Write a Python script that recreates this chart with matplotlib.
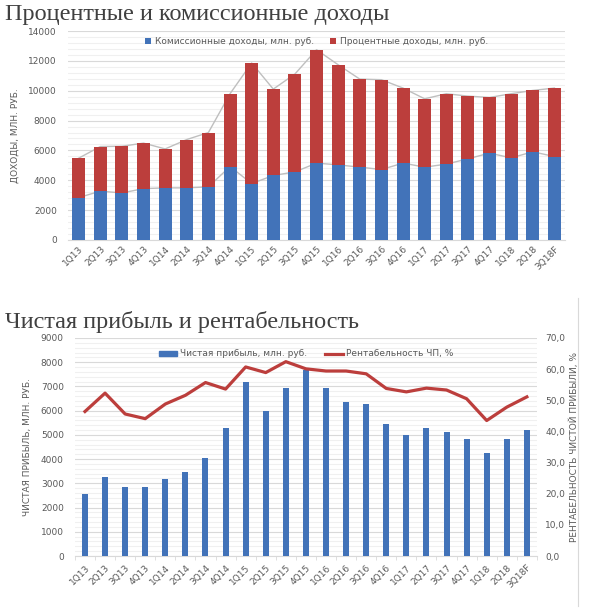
import matplotlib
matplotlib.use("Agg")
import matplotlib.pyplot as plt
import numpy as np
from matplotlib.ticker import MultipleLocator, FuncFormatter
from matplotlib.lines import Line2D
from matplotlib.patches import Patch

quarters = ["1Q13", "2Q13", "3Q13", "4Q13", "1Q14", "2Q14", "3Q14", "4Q14",
            "1Q15", "2Q15", "3Q15", "4Q15", "1Q16", "2Q16", "3Q16", "4Q16",
            "1Q17", "2Q17", "3Q17", "4Q17", "1Q18", "2Q18", "3Q18F"]

commission = [2840, 3270, 3150, 3440, 3490, 3490, 3560, 4920,
              3780, 4320, 4560, 5150, 5030, 4880, 4720, 5150,
              4880, 5080, 5440, 5820, 5500, 5910, 5590]
total_income = [5480, 6260, 6280, 6490, 6100, 6730, 7200, 9800,
                11860, 10110, 11120, 12750, 11740, 10780, 10740, 10180,
                9460, 9800, 9640, 9550, 9800, 10020, 10180]
interest = [t - c for t, c in zip(total_income, commission)]

net_profit = [2550, 3280, 2830, 2830, 3160, 3470, 4050, 5265,
              7180, 5990, 6940, 7670, 6940, 6360, 6270, 5470,
              4975, 5290, 5125, 4810, 4257, 4835, 5195]
margin = [46.4, 52.3, 45.6, 44.1, 48.8, 51.6, 55.7, 53.6,
          60.7, 58.9, 62.4, 60.1, 59.4, 59.4, 58.5, 53.8,
          52.7, 53.9, 53.3, 50.5, 43.5, 47.8, 51.1]

BLUE = "#4273B9"
RED = "#BC3E3C"
TXT = "#595959"
GRID = "#D9D9D9"
MINOR = "#F0F0F0"

plt.rcParams['font.family'] = ['DejaVu Sans']
fig = plt.figure(figsize=(5.9, 6.09), dpi=100)

x = np.arange(len(quarters))

# ---------- Top chart ----------
ax1 = fig.add_axes([0.115, 0.606, 0.843, 0.343])
ax1.bar(x, commission, width=0.6, color=BLUE, label="Комиссионные доходы, млн. руб.", zorder=3)
ax1.bar(x, interest, width=0.6, bottom=commission, color=RED, label="Процентные доходы, млн. руб.", zorder=3)
ax1.plot(x, commission, color="#BFBFBF", lw=1, zorder=2)
ax1.plot(x, total_income, color="#BFBFBF", lw=1, zorder=2)
ax1.set_xlim(-0.5, len(quarters) - 0.5)
ax1.set_ylim(0, 14000)
ax1.yaxis.set_major_locator(MultipleLocator(2000))
ax1.yaxis.set_minor_locator(MultipleLocator(400))
ax1.grid(axis='y', which='major', color=GRID, lw=0.8, zorder=0)
ax1.grid(axis='y', which='minor', color=MINOR, lw=0.8, zorder=0)
ax1.set_axisbelow(True)
for s in ['top', 'right', 'left']:
    ax1.spines[s].set_visible(False)
ax1.spines['bottom'].set_color(GRID)
ax1.set_xticks(x)
ax1.set_xticklabels(quarters, rotation=45, ha='right', rotation_mode='anchor')
ax1.tick_params(axis='both', which='both', length=0, labelsize=6.5, colors=TXT, pad=3)
ax1.tick_params(axis='y', pad=8)
ax1.set_ylabel("ДОХОДЫ, МЛН. РУБ.", fontsize=6.5, color=TXT, labelpad=6)
ax1.legend(loc='upper center', bbox_to_anchor=(0.5, 1.01), ncol=2, frameon=False,
           fontsize=6.5, labelcolor=TXT, handlelength=0.7, handleheight=0.7,
           handletextpad=0.4, columnspacing=1.8)
fig.text(0.008, 0.976, "Процентные и комиссионные доходы", fontsize=17.5,
         family="Liberation Serif", color="#404040", va='center', ha='left')

# ---------- Bottom chart ----------
ax2 = fig.add_axes([0.127, 0.087, 0.783, 0.358])
ax2.bar(x, net_profit, width=0.3, color=BLUE, zorder=3)
ax2.set_xlim(-0.5, len(quarters) - 0.5)
ax2.set_ylim(0, 9000)
ax2.yaxis.set_major_locator(MultipleLocator(1000))
ax2.yaxis.set_minor_locator(MultipleLocator(200))
ax2.grid(axis='y', which='major', color=GRID, lw=0.8, zorder=0)
ax2.grid(axis='y', which='minor', color=MINOR, lw=0.8, zorder=0)
ax2.set_axisbelow(True)
for s in ['top', 'right', 'left']:
    ax2.spines[s].set_visible(False)
ax2.spines['bottom'].set_color(GRID)
ax2.set_xticks(x)
ax2.set_xticklabels(quarters, rotation=45, ha='right', rotation_mode='anchor')
ax2.set_xticks(np.arange(-0.5, len(quarters), 1.0), minor=True)
ax2.tick_params(axis='x', which='major', length=0, labelsize=6.5, colors=TXT, pad=5)
ax2.tick_params(axis='x', which='minor', length=3, color=GRID)
ax2.tick_params(axis='y', which='both', length=0, labelsize=6.5, colors=TXT, pad=8)
ax2.set_ylabel("ЧИСТАЯ ПРИБЫЛЬ, МЛН. РУБ.", fontsize=6.5, color=TXT, labelpad=6)

ax3 = ax2.twinx()
ax3.plot(x, margin, color=RED, lw=2.3, zorder=4)
ax3.set_ylim(0, 70)
ax3.yaxis.set_major_locator(MultipleLocator(10))
ax3.yaxis.set_major_formatter(FuncFormatter(lambda v, p: f"{v:.1f}".replace('.', ',')))
for s in ['top', 'right', 'left', 'bottom']:
    ax3.spines[s].set_visible(False)
ax3.tick_params(axis='y', length=0, labelsize=6.5, colors=TXT, pad=6)
ax3.set_ylabel("РЕНТАБЕЛЬНОСТЬ ЧИСТОЙ ПРИБЫЛИ, %", fontsize=6.5, color=TXT, labelpad=3)

handles = [Patch(color=BLUE), Line2D([0], [0], color=RED, lw=2.3)]
ax2.legend(handles, ["Чистая прибыль, млн. руб.", "Рентабельность ЧП, %"],
           loc='upper center', bbox_to_anchor=(0.5, 0.985), ncol=2, frameon=False,
           fontsize=6.5, labelcolor=TXT, handlelength=2.0, handleheight=0.5,
           handletextpad=0.3, columnspacing=2.0)
fig.text(0.008, 0.472, "Чистая прибыль и рентабельность", fontsize=17.5,
         family="Liberation Serif", color="#404040", va='center', ha='left')

fig.add_artist(Line2D([0.98, 0.98], [0.005, 0.51], transform=fig.transFigure,
                      color="#D9D9D9", lw=0.8))

fig.savefig("out.png", dpi=100)
